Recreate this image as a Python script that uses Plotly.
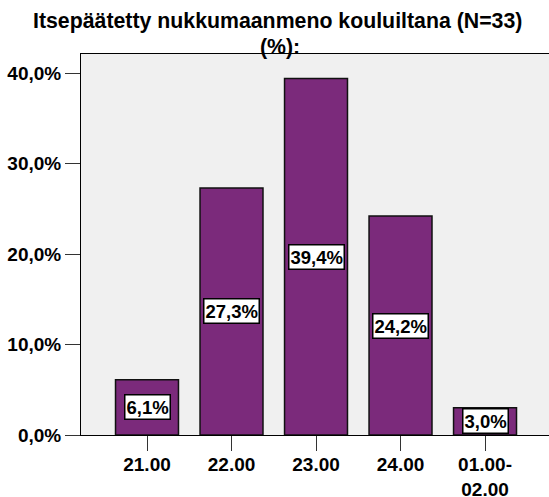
import plotly.graph_objects as go

categories = ["21.00", "22.00", "23.00", "24.00", "01.00-<br>02.00"]
values = [6.1, 27.3, 39.4, 24.2, 3.0]
value_labels = ["6,1%", "27,3%", "39,4%", "24,2%", "3,0%"]
y_ticks = [0, 10, 20, 30, 40]
y_tick_labels = ["0,0%", "10,0%", "20,0%", "30,0%", "40,0%"]
title_line1 = "Itsepäätetty nukkumaanmeno kouluiltana (N=33)"
title_line2 = "(%):"

font_family = "Liberation Sans, Arial, sans-serif"
x_idx = list(range(len(categories)))

W, H = 549, 497
plot_left, plot_right = 81, 549
plot_top, plot_bottom = 54, 435
pw = plot_right - plot_left
ph = plot_bottom - plot_top


def xpaper(px):
    return (px - plot_left) / pw


def ypaper(py):
    return (plot_bottom - py) / ph


fig = go.Figure()
fig.add_trace(go.Bar(
    x=x_idx, y=values, width=0.745,
    marker=dict(color="#7b2a7b", line=dict(color="#111111", width=1.5)),
    hoverinfo="skip",
))

for i, (v, lab) in enumerate(zip(values, value_labels)):
    fig.add_annotation(
        x=i, y=v / 2, text="<b>" + lab + "</b>", showarrow=False,
        font=dict(family=font_family, size=18.5, color="black"),
        bgcolor="white", bordercolor="black", borderwidth=1.5, borderpad=1,
        xref="x", yref="y",
    )

fig.add_annotation(
    x=xpaper(277.5), xref="paper", xanchor="center", y=ypaper(21), yref="paper", yanchor="middle",
    text="<b>" + title_line1 + "</b>", showarrow=False,
    font=dict(family=font_family, size=21.3, color="black"),
)
fig.add_annotation(
    x=xpaper(280), xref="paper", xanchor="center", y=ypaper(47), yref="paper", yanchor="middle",
    text="<b>" + title_line2 + "</b>", showarrow=False,
    font=dict(family=font_family, size=21.3, color="black"),
)

fig.update_layout(
    width=W, height=H,
    margin=dict(l=plot_left, r=W - plot_right, t=plot_top, b=H - plot_bottom, autoexpand=False),
    paper_bgcolor="white", plot_bgcolor="#f0f0f0",
    showlegend=False,
    font=dict(family=font_family, color="black"),
)
fig.update_xaxes(
    range=[-0.781, 4.757], tickvals=x_idx,
    ticktext=["<b>" + c + "</b>" for c in categories],
    ticks="outside", ticklen=15, tickcolor="#333333", tickwidth=1,
    showline=True, linecolor="black", linewidth=1, mirror=True,
    showgrid=False, zeroline=False, automargin=False,
    ticklabelstandoff=-3,
    tickfont=dict(family=font_family, size=19, color="black"),
)
fig.update_yaxes(
    range=[0, 42.1], tickvals=y_ticks,
    ticktext=["<b>" + t + "</b>" for t in y_tick_labels],
    ticks="outside", ticklen=15, tickcolor="#333333", tickwidth=1,
    showline=True, linecolor="black", linewidth=1, mirror=False,
    showgrid=False, zeroline=False, automargin=False,
    tickfont=dict(family=font_family, size=19, color="black"),
)

fig.write_html(
    "out.html",
    config={"displayModeBar": False},
    post_script="document.body.style.margin='0';document.body.style.overflow='hidden';",
)
